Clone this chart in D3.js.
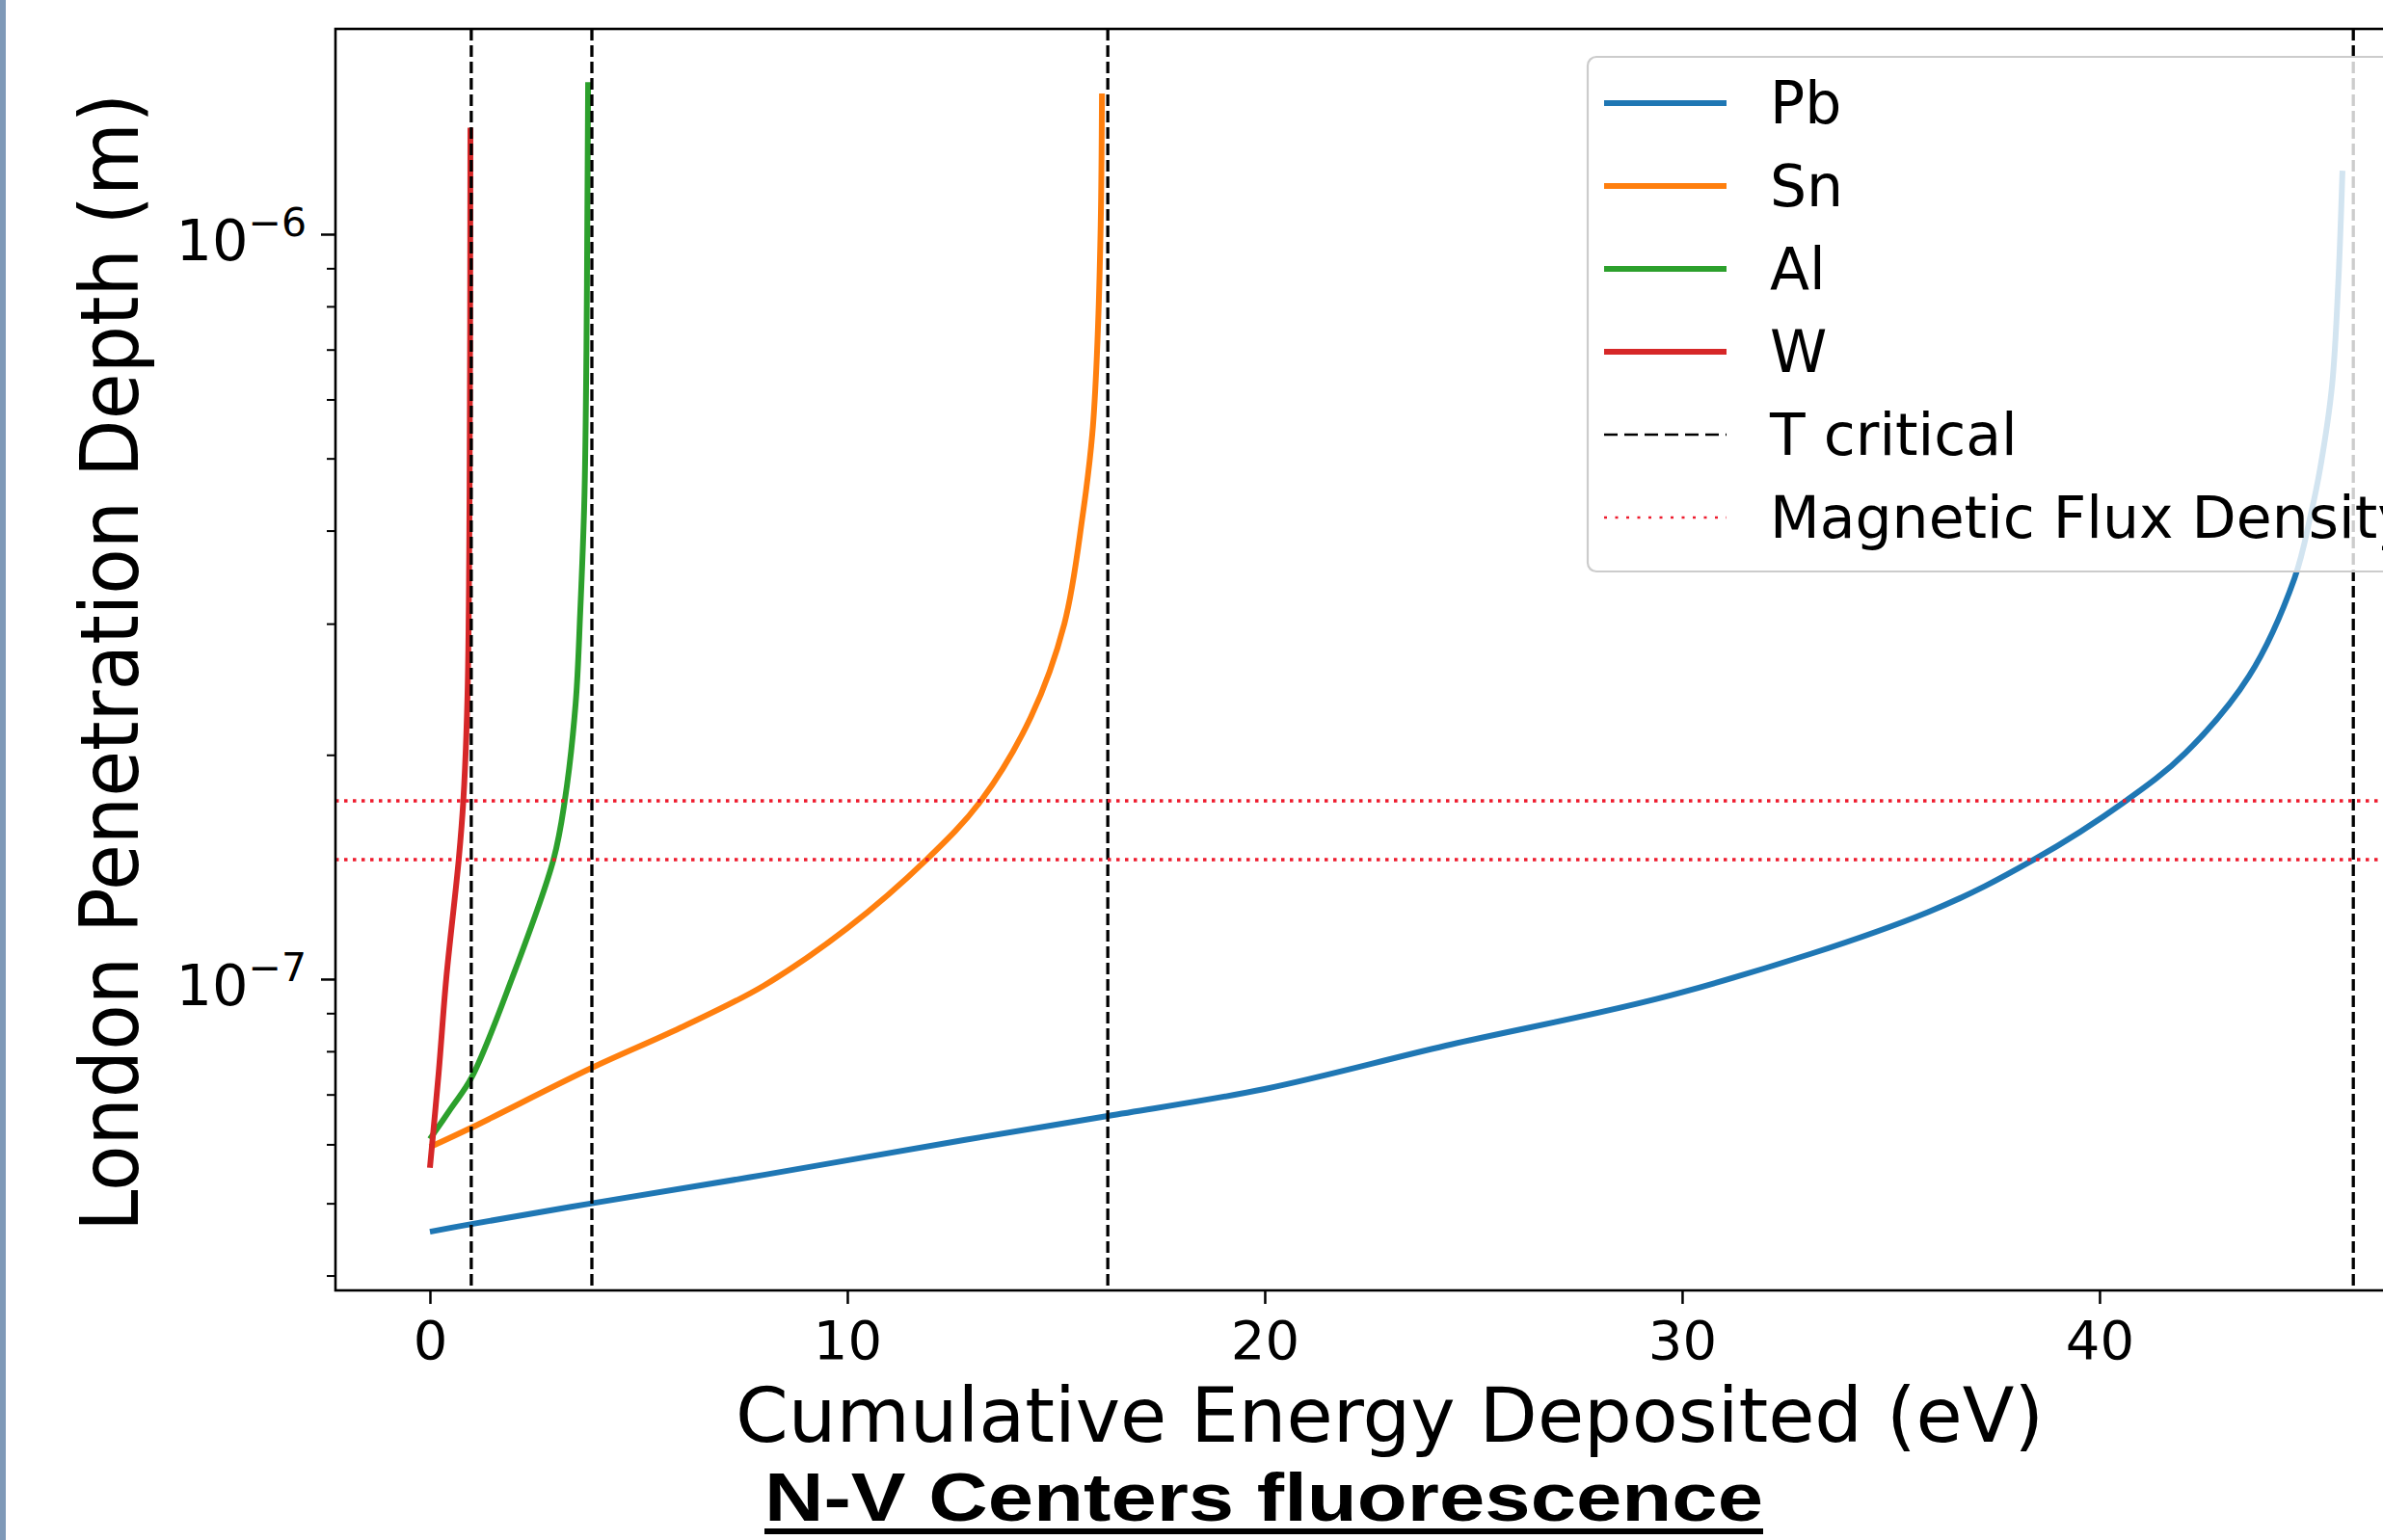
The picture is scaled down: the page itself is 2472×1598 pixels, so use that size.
<!DOCTYPE html>
<html><head><meta charset="utf-8">
<script src="https://cdn.jsdelivr.net/npm/d3@7"></script>
<style>html,body{margin:0;padding:0;background:#fff;overflow:hidden}</style>
</head><body><svg id="chart"></svg>
<script>
// ---------- data ----------
const seriesNames  = ["Pb", "Sn", "Al", "W"];
const seriesColors = ["#1f77b4", "#ff7f0e", "#2ca02c", "#d62728"];

const pbEnergy = [0, 1, 3.88, 8, 12.79, 16.24, 20, 24.34, 30, 35.89, 38.43, 40.6, 42.05, 43.58, 44.67, 45.06, 45.30, 45.57, 45.72, 45.82];
const pbDepth  = [4.58e-8, 4.69e-8, 5.0e-8, 5.46e-8, 6.08e-8, 6.55e-8, 7.12e-8, 8.14e-8, 9.6e-8, 1.23e-7, 1.447e-7, 1.73e-7, 2.01e-7, 2.55e-7, 3.45e-7, 4.2e-7, 4.9e-7, 6.26e-7, 8.6e-7, 1.217e-6];

const snEnergy = [0, 1, 3.88, 6, 8, 10, 11.9, 13.2, 14.4, 15.2, 15.64, 15.87, 15.98, 16.07, 16.10];
const snDepth  = [5.95e-8, 6.32e-8, 7.6e-8, 8.6e-8, 9.8e-8, 1.17e-7, 1.447e-7, 1.735e-7, 2.25e-7, 3.0e-7, 4.2e-7, 5.4e-7, 6.9e-7, 1.03e-6, 1.545e-6];

const alEnergy = [0, 0.5, 1.0, 1.96, 2.96, 3.23, 3.49, 3.6, 3.70, 3.75, 3.77, 3.79];
const alDepth  = [6.1e-8, 6.7e-8, 7.38e-8, 1.0e-7, 1.447e-7, 1.735e-7, 2.34e-7, 3.1e-7, 4.4e-7, 7.0e-7, 1.03e-6, 1.6e-6];

const wEnergy = [0, 0.21, 0.39, 0.69, 0.8, 0.9, 0.95, 0.97];
const wDepth  = [5.58e-8, 7.49e-8, 1.0e-7, 1.447e-7, 1.735e-7, 2.4e-7, 4.5e-7, 1.39e-6];

const tCritical   = [0.99, 3.88, 16.24, 46.08];
const fluxDensity = [1.447e-7, 1.735e-7];

const xTicks       = [0, 10, 20, 30, 40];
const yMajorTicks  = [1e-7, 1e-6];
const yMajorLabels = [["10", "\u22127"], ["10", "\u22126"]];
const yMinorTicks  = [4e-8, 5e-8, 6e-8, 7e-8, 8e-8, 9e-8, 2e-7, 3e-7, 4e-7, 5e-7, 6e-7, 7e-7, 8e-7, 9e-7];

const legendLabels = ["Pb", "Sn", "Al", "W", "T critical", "Magnetic Flux Density"];
const xLabel = "Cumulative Energy Deposited (eV)";
const yLabel = "London Penetration Depth (m)";
const titleText = "N-V Centers fluorescence";

// ---------- layout ----------
const W = 2472, H = 1598;
const plot = {left: 348, top: 30, bottom: 1339, right: 2533};
const FONT = "'DejaVu Sans', Verdana, sans-serif";

const svg = d3.select("#chart").attr("width", W).attr("height", H)
  .style("display", "block").style("background", "#fff");

svg.append("rect").attr("x", 0).attr("y", 0).attr("width", W).attr("height", H).attr("fill", "#fff");
svg.append("rect").attr("x", 0).attr("y", 0).attr("width", 6).attr("height", H).attr("fill", "#7f99b8");

const x = d3.scaleLinear().domain([-2.263, 48.2]).range([plot.left, plot.right]);
const y = d3.scaleLog().domain([3.82e-8, 1.886e-6]).range([plot.bottom, plot.top]);

svg.append("clipPath").attr("id", "clip").append("rect")
  .attr("x", plot.left).attr("y", plot.top)
  .attr("width", plot.right - plot.left).attr("height", plot.bottom - plot.top);

const area = svg.append("g").attr("clip-path", "url(#clip)");

// ---------- curves ----------
const series = [
  {name: seriesNames[0], color: seriesColors[0], xs: pbEnergy, ys: pbDepth},
  {name: seriesNames[1], color: seriesColors[1], xs: snEnergy, ys: snDepth},
  {name: seriesNames[2], color: seriesColors[2], xs: alEnergy, ys: alDepth},
  {name: seriesNames[3], color: seriesColors[3], xs: wEnergy, ys: wDepth}
];
const line = d3.line().x(d => x(d[0])).y(d => y(d[1])).curve(d3.curveCatmullRom.alpha(0.5));
series.forEach(s => {
  area.append("path")
    .datum(s.xs.map((v, i) => [v, s.ys[i]]))
    .attr("d", line)
    .attr("fill", "none")
    .attr("stroke", s.color)
    .attr("stroke-width", 6)
    .attr("stroke-linejoin", "round");
});

// ---------- T critical (vertical dashed) ----------
area.selectAll(".tc").data(tCritical).join("line")
  .attr("x1", d => x(d)).attr("x2", d => x(d))
  .attr("y1", plot.top).attr("y2", plot.bottom)
  .attr("stroke", "#000").attr("stroke-width", 3.3)
  .attr("stroke-dasharray", "12,5");

// ---------- Magnetic flux density (horizontal dotted) ----------
area.selectAll(".fd").data(fluxDensity).join("line")
  .attr("x1", plot.left).attr("x2", plot.right)
  .attr("y1", d => y(d)).attr("y2", d => y(d))
  .attr("stroke", "#ee1c2e").attr("stroke-width", 3.5)
  .attr("stroke-dasharray", "3.5,5.5");

// ---------- axes ----------
const xAxis = d3.axisBottom(x).tickValues(xTicks).tickSize(14).tickSizeOuter(0).tickPadding(17)
  .tickFormat(d3.format("d"));
const gx = svg.append("g").attr("transform", `translate(0,${plot.bottom})`).call(xAxis);
gx.select(".domain").remove();
gx.selectAll(".tick line").attr("stroke", "#000").attr("stroke-width", 2.5);
gx.selectAll(".tick text").attr("font-family", FONT).attr("font-size", 56).attr("fill", "#000");

const yAxisMajor = d3.axisLeft(y).tickValues(yMajorTicks).tickSize(15).tickSizeOuter(0).tickFormat(() => "");
const gy = svg.append("g").attr("transform", `translate(${plot.left},0)`).call(yAxisMajor);
gy.select(".domain").remove();
gy.selectAll(".tick line").attr("stroke", "#000").attr("stroke-width", 2.5);

const yAxisMinor = d3.axisLeft(y).tickValues(yMinorTicks).tickSize(9).tickSizeOuter(0).tickFormat(() => "");
const gy2 = svg.append("g").attr("transform", `translate(${plot.left},0)`).call(yAxisMinor);
gy2.select(".domain").remove();
gy2.selectAll(".tick line").attr("stroke", "#000").attr("stroke-width", 2);

yMajorTicks.forEach((v, i) => {
  const t = svg.append("text")
    .attr("x", 318).attr("y", y(v) + 27)
    .attr("text-anchor", "end")
    .attr("font-family", FONT).attr("fill", "#000");
  t.append("tspan").attr("font-size", 59).text(yMajorLabels[i][0]);
  t.append("tspan").attr("font-size", 41).attr("dy", -25).text(yMajorLabels[i][1]);
});

// frame (spines)
svg.append("rect")
  .attr("x", plot.left).attr("y", plot.top)
  .attr("width", plot.right - plot.left).attr("height", plot.bottom - plot.top)
  .attr("fill", "none").attr("stroke", "#000").attr("stroke-width", 2.6);

// axis labels
svg.append("text")
  .attr("x", 763).attr("y", 1496)
  .attr("font-family", FONT).attr("font-size", 78).attr("fill", "#000")
  .attr("textLength", 1357).attr("lengthAdjust", "spacingAndGlyphs")
  .text(xLabel);

svg.append("text")
  .attr("transform", "translate(143,1278) rotate(-90)")
  .attr("x", 0).attr("y", 0)
  .attr("font-family", FONT).attr("font-size", 84).attr("fill", "#000")
  .attr("textLength", 1181).attr("lengthAdjust", "spacingAndGlyphs")
  .text(yLabel);

// ---------- legend ----------
const lg = svg.append("g");
lg.append("rect")
  .attr("x", 1647).attr("y", 59).attr("width", 1000).attr("height", 534)
  .attr("rx", 9).attr("ry", 9)
  .attr("fill", "#fff").attr("fill-opacity", 0.8)
  .attr("stroke", "#cccccc").attr("stroke-width", 2.2);

const legendStyles = [
  {color: seriesColors[0], width: 6, dash: null},
  {color: seriesColors[1], width: 6, dash: null},
  {color: seriesColors[2], width: 6, dash: null},
  {color: seriesColors[3], width: 6, dash: null},
  {color: "#000", width: 2.6, dash: "14,7"},
  {color: "#ee1c2e", width: 2.6, dash: "3,8.5"}
];
legendLabels.forEach((lab, i) => {
  const cy = 107 + i * 86;
  const st = legendStyles[i];
  const l = lg.append("line")
    .attr("x1", 1664).attr("x2", 1791).attr("y1", cy).attr("y2", cy)
    .attr("stroke", st.color).attr("stroke-width", st.width);
  if (st.dash) l.attr("stroke-dasharray", st.dash);
  lg.append("text")
    .attr("x", 1836).attr("y", cy + 21)
    .attr("font-family", FONT).attr("font-size", 60).attr("fill", "#000")
    .text(lab);
});

// ---------- title ----------
svg.append("text")
  .attr("x", 793).attr("y", 1578)
  .attr("font-family", "'Liberation Sans Narrow', 'Liberation Sans', Arial, sans-serif")
  .attr("font-weight", "bold").attr("font-size", 70).attr("fill", "#000")
  .attr("textLength", 1036).attr("lengthAdjust", "spacingAndGlyphs")
  .text(titleText);
svg.append("rect").attr("x", 793).attr("y", 1586).attr("width", 1036).attr("height", 6).attr("fill", "#000");
</script>
</body></html>
